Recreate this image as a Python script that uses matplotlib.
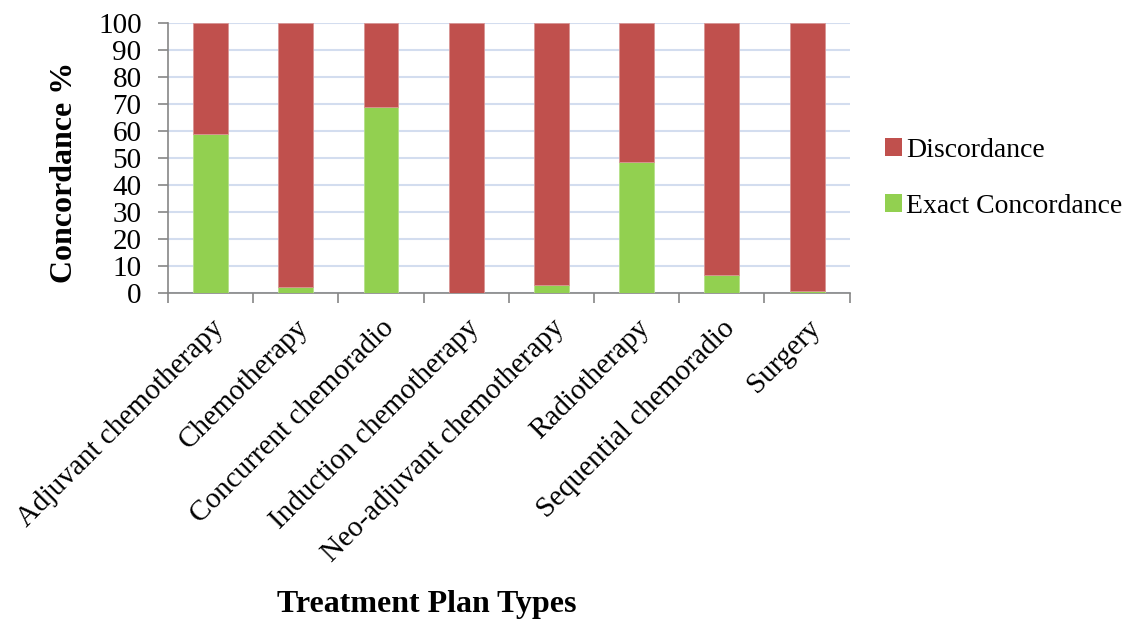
import matplotlib
matplotlib.use("Agg")
import matplotlib.pyplot as plt
import numpy as np
from matplotlib.patches import Patch

plt.rcParams['font.family'] = ['Liberation Serif', 'DejaVu Serif']

categories = ["Adjuvant chemotherapy", "Chemotherapy", "Concurrent chemoradio",
              "Induction chemotherapy", "Neo-adjuvant chemotherapy", "Radiotherapy",
              "Sequential chemoradio", "Surgery"]
exact = [58.7, 2.0, 68.7, 0.0, 3.0, 48.5, 6.6, 0.8]
discordance = [100 - v for v in exact]

green = "#92D050"
red = "#C0504D"

fig = plt.figure(figsize=(11.39, 6.19), dpi=100)
ax = fig.add_axes([0.1475, 0.527, 0.5985, 0.436])

x = np.arange(len(categories))
ax.bar(x, exact, width=0.41, color=green, edgecolor="#B5E08A", linewidth=0.6, zorder=3)
ax.bar(x, discordance, width=0.41, bottom=exact, color=red, edgecolor="#D99594",
       linewidth=0.6, zorder=3)

ax.set_xlim(-0.5, len(categories) - 0.5)
ax.set_ylim(0, 100)
ax.set_yticks(np.arange(0, 101, 10))
ax.tick_params(axis='y', labelsize=21, length=7, color="#868686", width=1.2, pad=12)
ax.yaxis.grid(True, color="#D3DDEF", linewidth=1.5, zorder=0)
ax.set_axisbelow(True)

ax.set_xticks(x)
ax.set_xticklabels(categories, rotation=45, ha='right', rotation_mode='anchor', fontsize=21)
ax.tick_params(axis='x', which='major', length=0, pad=16)
ax.set_xticks(np.arange(-0.5, len(categories), 1), minor=True)
ax.tick_params(axis='x', which='minor', length=7, color="#868686", width=1.2)

for s in ['top', 'right']:
    ax.spines[s].set_visible(False)
for s in ['left', 'bottom']:
    ax.spines[s].set_color("#868686")
    ax.spines[s].set_linewidth(1.2)

fig.text(0.057, 0.722, "Concordance %", fontsize=23, fontweight='bold',
         rotation=90, ha='center', va='center')
fig.text(0.375, 0.023, "Treatment Plan Types", fontsize=23, fontweight='bold',
         ha='center', va='center')

handles = [Patch(facecolor=red, label="Discordance"),
           Patch(facecolor=green, label="Exact Concordance")]
fig.legend(handles=handles, loc='center left', bbox_to_anchor=(0.765, 0.712),
           frameon=False, fontsize=20, handlelength=0.6, handleheight=0.6,
           handletextpad=0.15, labelspacing=1.1, borderpad=0)

fig.savefig("out.png", dpi=100)
